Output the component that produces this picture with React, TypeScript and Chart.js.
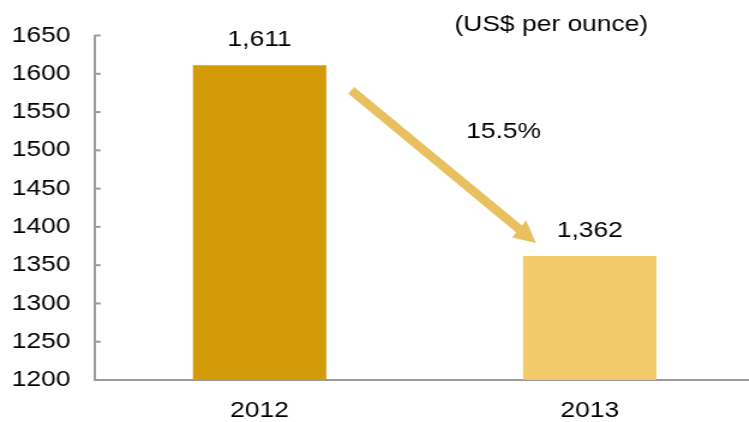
import React, { useEffect, useRef } from 'react';
import { Chart, registerables } from 'chart.js';

Chart.register(...registerables);

const categories = ['2012', '2013'];
const goldPrice = [1611, 1362];
const barColors = ['#D39B08', '#F2CA6A'];
const yMin = 1200;
const yMax = 1650;
const yStep = 50;
const unitLabel = '(US$ per ounce)';

const SX = 1.2; // horizontal stretch of the original picture
const W = 630;
const H = 422;
const FONT = '"Liberation Sans", Arial, sans-serif';
const AXIS = '#9A9A9A';
const ARROW = '#E8C060';

const overlay = {
  id: 'overlay',
  afterDatasetsDraw(chart: any) {
    const ctx: CanvasRenderingContext2D = chart.ctx;
    const meta = chart.getDatasetMeta(0);
    const b0: any = meta.data[0];
    const b1: any = meta.data[1];
    const ys = chart.scales.y;

    ctx.save();
    // inward tick marks on the y axis
    ctx.strokeStyle = AXIS;
    ctx.lineWidth = 2;
    ys.ticks.forEach((_t: any, i: number) => {
      const y = ys.getPixelForTick(i);
      ctx.beginPath();
      ctx.moveTo(ys.right, y);
      ctx.lineTo(ys.right + 5, y);
      ctx.stroke();
    });

    // value labels
    ctx.fillStyle = '#000';
    ctx.font = `22px ${FONT}`;
    ctx.textAlign = 'center';
    ctx.textBaseline = 'middle';
    meta.data.forEach((el: any, i: number) => {
      ctx.fillText(goldPrice[i].toLocaleString('en-US'), el.x, el.y - 25);
    });

    // arrow (drawn in screen space)
    const sx = (b0.x + b0.width / 2) * SX + 25;
    const sy = b0.y + 25;
    const tx = (b1.x - b1.width / 2) * SX + 13;
    const ty = b1.y - 13;
    const dx = tx - sx;
    const dy = ty - sy;
    const len = Math.hypot(dx, dy);
    const ux = dx / len;
    const uy = dy / len;
    const headLen = 22;
    const headW = 11;
    const bx = tx - ux * headLen;
    const by = ty - uy * headLen;
    ctx.save();
    ctx.scale(1 / SX, 1);
    ctx.strokeStyle = ARROW;
    ctx.fillStyle = ARROW;
    ctx.lineWidth = 9;
    ctx.lineCap = 'butt';
    ctx.beginPath();
    ctx.moveTo(sx, sy);
    ctx.lineTo(bx + ux * 2, by + uy * 2);
    ctx.stroke();
    ctx.beginPath();
    ctx.moveTo(tx, ty);
    ctx.lineTo(bx - uy * headW, by + ux * headW);
    ctx.lineTo(bx + uy * headW, by - ux * headW);
    ctx.closePath();
    ctx.fill();
    ctx.restore();

    // percentage label
    ctx.fillStyle = '#000';
    const pct = (((goldPrice[0] - goldPrice[1]) / goldPrice[0]) * 100).toFixed(1) + '%';
    ctx.fillText(pct, ((sx + tx) / 2 + 60) / SX, (sy + ty) / 2 - 35);

    // unit label
    ctx.fillText(unitLabel, b1.x - 32, 25);
    ctx.restore();
  },
};

export default function App() {
  const ref = useRef<HTMLCanvasElement>(null);

  useEffect(() => {
    document.documentElement.style.overflow = 'hidden';
    const chart = new Chart(ref.current as HTMLCanvasElement, {
      type: 'bar',
      data: {
        labels: categories,
        datasets: [
          {
            data: goldPrice,
            backgroundColor: barColors,
            borderWidth: 0,
            categoryPercentage: 1,
            barPercentage: 0.404,
          },
        ],
      },
      options: {
        animation: false,
        responsive: false,
        events: [],
        layout: { padding: { top: 35.5, right: 1, left: 0, bottom: 0 } },
        plugins: {
          legend: { display: false },
          tooltip: { enabled: false },
          title: { display: false },
        },
        scales: {
          x: {
            offset: true,
            grid: { display: true, drawOnChartArea: false, drawTicks: false },
            border: { display: true, color: AXIS, width: 2 },
            ticks: { color: '#000', font: { family: FONT, size: 22 }, padding: 18 },
            afterFit: (scale: any) => {
              scale.height = 42;
            },
          },
          y: {
            min: yMin,
            max: yMax,
            grid: { display: true, drawOnChartArea: false, drawTicks: false },
            border: { display: true, color: AXIS, width: 2 },
            ticks: {
              stepSize: yStep,
              color: '#000',
              font: { family: FONT, size: 22 },
              padding: 20,
              callback: (v: any) => String(v),
            },
            afterFit: (scale: any) => {
              scale.width = 78.75;
            },
          },
        },
      },
      plugins: [overlay],
    });
    return () => chart.destroy();
  }, []);

  return (
    <div style={{ position: 'absolute', left: 0, top: 0, width: W * SX, height: H, overflow: 'hidden' }}>
      <canvas
        ref={ref}
        width={W}
        height={H}
        style={{
          display: 'block',
          width: W,
          height: H,
          transform: `scaleX(${SX})`,
          transformOrigin: '0 0',
        }}
      />
    </div>
  );
}
